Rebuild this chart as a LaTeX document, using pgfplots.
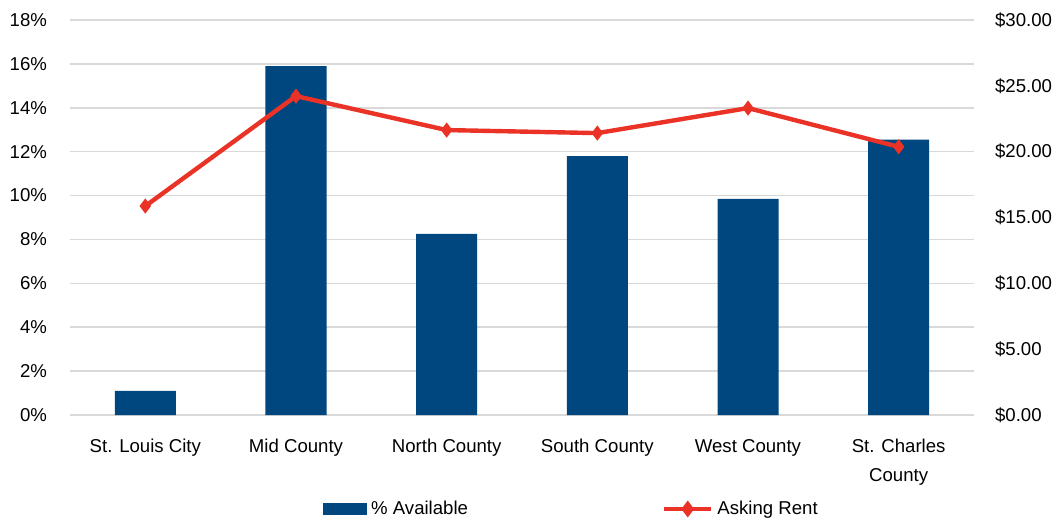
\documentclass[border=0pt]{standalone}
\usepackage{pgfplots}
\pgfplotsset{compat=1.18}
\usepackage{fontspec}
\setmainfont{Liberation Sans}
\definecolor{barblue}{RGB}{0,70,127}
\definecolor{rentred}{RGB}{234,50,38}
\definecolor{gridgray}{RGB}{217,217,217}

\begin{document}
\begin{tikzpicture}
\pgfplotsset{
  every axis/.append style={
    width=452pt, height=197.5pt, scale only axis,
    at={(0,0)}, anchor=south west,
    xmin=-0.5, xmax=5.5,
    font=\fontsize{9.3}{11}\selectfont,
    /pgf/number format/assume math mode=true,
    tick style={draw=none},
    axis line style={draw=none},
  }
}
% left axis: % available
\begin{axis}[
  ymin=0, ymax=18, ytick={0,2,...,18},
  yticklabel={\pgfmathprintnumber{\tick}\%},
  yticklabel style={xshift=-8pt},
  xtick={0,...,5},
  xticklabels={St. Louis City, Mid County, North County, South County, West County, {St. Charles\\County}},
  xticklabel style={align=center, yshift=-8.5pt, font=\fontsize{9.3}{14.5}\selectfont},
  ymajorgrids, grid style={gridgray, line width=0.75pt},
  legend columns=2,
  legend style={at={(0.273,-0.238)}, anchor=west, draw=none, fill=none,
    /tikz/every even column/.append style={column sep=95pt}},
]
\addplot[ybar, bar width=30.5pt, fill=barblue, draw=none,
  legend image code/.code={\fill[barblue] (0pt,-3pt) rectangle (22pt,3pt);}]
  coordinates {(0,1.1) (1,15.9) (2,8.25) (3,11.8) (4,9.85) (5,12.55)};
\addlegendentry{\% Available}
\addlegendimage{legend image code/.code={\draw[rentred, line width=2.2pt, mark=diamond*, mark size=2.4pt, mark repeat=2, mark phase=2] plot coordinates {(0pt,0pt) (11.75pt,0pt) (23.5pt,0pt)};}}
\addlegendentry{Asking Rent}
\end{axis}
% right axis: asking rent
\begin{axis}[
  ymin=0, ymax=30, ytick={0,5,...,30},
  axis y line*=right, axis x line=none,
  yticklabel={\$\pgfmathprintnumber[fixed,fixed zerofill,precision=2]{\tick}},
  yticklabel style={xshift=7pt},
]
\addplot[rentred, line width=2.2pt, mark=diamond*, mark size=2pt]
  coordinates {(0,15.87) (1,24.22) (2,21.64) (3,21.41) (4,23.31) (5,20.37)};
\end{axis}
\pgfresetboundingbox
\path[use as bounding box] (-35pt,-52.5pt) rectangle (492.5pt,207.5pt);
\end{tikzpicture}
\end{document}
